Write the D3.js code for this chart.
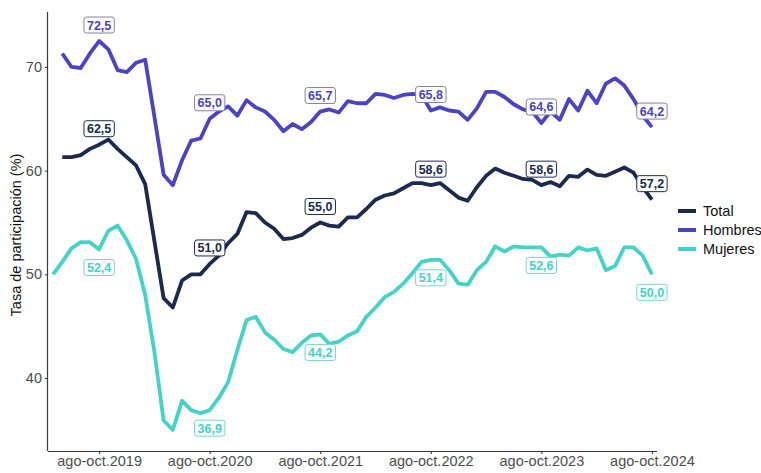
<!DOCTYPE html>
<html>
<head>
<meta charset="utf-8">
<script src="https://cdn.jsdelivr.net/npm/d3@7"></script>
<style>
  body { margin: 0; background: #fff; }
  svg { display: block; font-family: "Liberation Sans", Arial, sans-serif; }
</style>
</head>
<body>
<svg width="761" height="473"></svg>
<script>
// trimestres móviles, de mar-may.2019 a ago-oct.2024
const meses = ['ene', 'feb', 'mar', 'abr', 'may', 'jun', 'jul', 'ago', 'sep', 'oct', 'nov', 'dic']
const periodos = []
for (let i = 0; i < 66; i++) {
  const m = 2 + i
  const fin = m + 2
  periodos.push(meses[m % 12] + '-' + meses[fin % 12] + '.' + (2019 + Math.floor(fin / 12)))
}

const tickLabels = ['ago-oct.2019', 'ago-oct.2020', 'ago-oct.2021', 'ago-oct.2022', 'ago-oct.2023', 'ago-oct.2024']

const total = [null,
  61.3, 61.3, 61.5, 62.1, 62.5, 63.0, 62.1, 61.3, 60.5, 58.7,
  53.2, 47.7, 46.8, 49.4, 50.0, 50.0, 51.0, 51.8, 53.0, 53.9,
  56.0, 55.9, 55.0, 54.4, 53.4, 53.5, 53.8, 54.5, 55.0, 54.7,
  54.6, 55.5, 55.5, 56.3, 57.2, 57.6, 57.8, 58.3, 58.8, 58.8,
  58.6, 58.8, 58.1, 57.4, 57.1, 58.4, 59.5, 60.2, 59.8, 59.5,
  59.2, 59.1, 58.6, 58.9, 58.5, 59.5, 59.4, 60.1, 59.6, 59.5,
  59.9, 60.3, 59.8, 58.4, 57.2]

const hombres = [null,
  71.3, 70.0, 69.9, 71.3, 72.5, 71.7, 69.7, 69.5, 70.4, 70.7,
  65.2, 59.6, 58.6, 61.0, 62.9, 63.1, 65.0, 65.7, 66.2, 65.3,
  66.8, 66.1, 65.7, 64.9, 63.8, 64.5, 64.0, 64.7, 65.7, 65.9,
  65.6, 66.7, 66.5, 66.5, 67.4, 67.3, 67.0, 67.3, 67.4, 67.3,
  65.8, 66.1, 65.8, 65.7, 64.9, 66.0, 67.6, 67.6, 67.1, 66.4,
  65.9, 65.7, 64.6, 65.7, 64.9, 66.9, 65.8, 67.7, 66.5, 68.4,
  68.9, 68.2, 66.9, 65.3, 64.2]

const mujeres = [50.0,
  51.2, 52.5, 53.1, 53.1, 52.4, 54.2, 54.7, 53.3, 51.5, 48.0,
  42.5, 35.9, 35.0, 37.8, 36.9, 36.6, 36.9, 38.1, 39.6, 42.7,
  45.6, 45.9, 44.4, 43.7, 42.8, 42.5, 43.4, 44.1, 44.2, 43.3,
  43.5, 44.1, 44.5, 45.9, 46.8, 47.8, 48.3, 49.1, 50.1, 51.2,
  51.4, 51.4, 50.4, 49.1, 49.0, 50.4, 51.2, 52.7, 52.2, 52.7,
  52.6, 52.6, 52.6, 51.7, 51.9, 51.8, 52.6, 52.3, 52.5, 50.4,
  50.8, 52.6, 52.6, 51.8, 50.0]

const yTicks = [40, 50, 60, 70]

const series = [
  { name: 'Total', values: total, color: '#1b2a4d', border: '#1b2a4d', below: false },
  { name: 'Hombres', values: hombres, color: '#4b43c4', border: '#7f82a8', below: false },
  { name: 'Mujeres', values: mujeres, color: '#45d3c6', border: '#6fd9cf', below: true }
]

const svg = d3.select('svg')

const x = d3.scalePoint()
  .domain(periodos)
  .range([48, 657])
  .padding(0.55)

const y = d3.scaleLinear()
  .domain([32.96, 75.3])
  .range([451, 12])

// ejes
const gx = svg.append('g')
  .attr('transform', 'translate(0,451)')
  .call(d3.axisBottom(x).tickValues(tickLabels).tickSize(3).tickSizeOuter(0))
gx.select('.domain').attr('d', 'M48,0.5H657')

const gy = svg.append('g')
  .attr('transform', 'translate(48,0)')
  .call(d3.axisLeft(y).tickValues(yTicks).tickSize(3).tickSizeOuter(0))
gy.select('.domain').attr('d', 'M-0.5,12V451')

svg.selectAll('.domain').attr('stroke', '#3a3a3a').attr('stroke-width', 1.2)
svg.selectAll('.tick line').attr('stroke', '#3a3a3a').attr('stroke-width', 1.1)
svg.selectAll('.tick text')
  .attr('fill', '#4d4d4d')
  .attr('font-size', 14.5)
  .attr('font-family', '"Liberation Sans", Arial, sans-serif')
gx.selectAll('.tick text').attr('y', 5).attr('dy', '0.71em')
gy.selectAll('.tick text').attr('x', -6)

svg.append('text')
  .attr('transform', 'translate(21,235) rotate(-90)')
  .attr('text-anchor', 'middle')
  .attr('font-size', 14.5)
  .attr('fill', '#111')
  .text('Tasa de participación (%)')

// líneas
const line = d3.line()
  .defined(d => d != null)
  .x((d, i) => x(periodos[i]))
  .y(d => y(d))

series.slice().reverse().forEach(s => {
  svg.append('path')
    .datum(s.values)
    .attr('fill', 'none')
    .attr('stroke', s.color)
    .attr('stroke-width', 3.8)
    .attr('stroke-linejoin', 'round')
    .attr('d', line)
})

// etiquetas en ago-oct de cada año
const fmt = v => d3.format('.1f')(v).replace('.', ',')

series.forEach(s => {
  tickLabels.forEach(p => {
    const i = periodos.indexOf(p)
    const v = s.values[i]
    const cx = x(p)
    const cy = y(v) + (s.below ? 18 : -16)
    const g = svg.append('g')
    const t = g.append('text')
      .attr('x', cx)
      .attr('y', cy)
      .attr('dy', '0.36em')
      .attr('text-anchor', 'middle')
      .attr('font-size', 12.5)
      .attr('font-weight', 'bold')
      .attr('fill', s.color)
      .text(fmt(v))
    const bb = t.node().getBBox()
    g.insert('rect', 'text')
      .attr('x', bb.x - 3)
      .attr('y', cy - 8)
      .attr('width', bb.width + 6)
      .attr('height', 16)
      .attr('rx', 2.5)
      .attr('fill', '#fff')
      .attr('stroke', s.border)
      .attr('stroke-width', 1)
  })
})

// leyenda
const legend = svg.append('g').attr('transform', 'translate(678,211)')
series.forEach((s, k) => {
  const row = legend.append('g').attr('transform', 'translate(0,' + (k * 19) + ')')
  row.append('line')
    .attr('x1', 0).attr('x2', 18)
    .attr('stroke', s.color)
    .attr('stroke-width', 4)
  row.append('text')
    .attr('x', 25)
    .attr('dy', '0.36em')
    .attr('font-size', 14.5)
    .attr('fill', '#111')
    .text(s.name)
})
</script>
</body>
</html>
